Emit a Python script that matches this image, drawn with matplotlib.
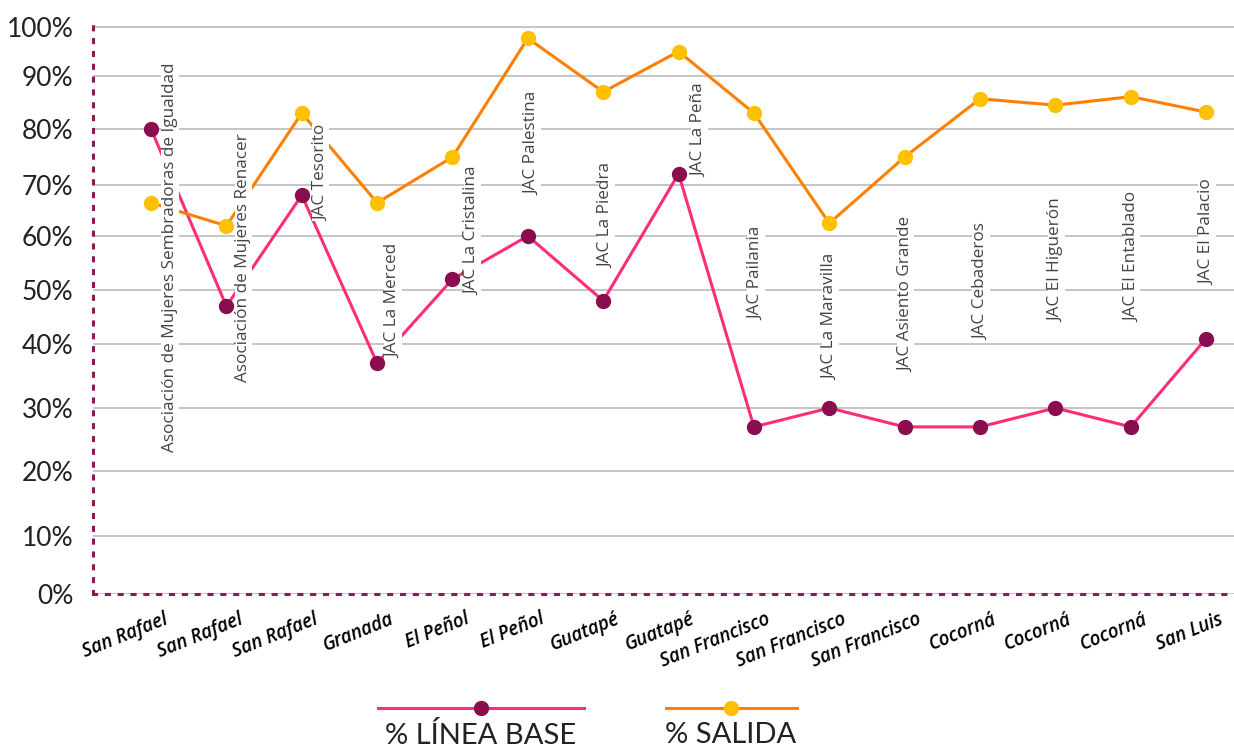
import matplotlib
import numpy as np

matplotlib.use("Agg")
import matplotlib.pyplot as plt
from matplotlib.lines import Line2D
from matplotlib.transforms import ScaledTranslation


# Chart data
MUNICIPIOS = [
    "San Rafael", "San Rafael", "San Rafael", "Granada", "El Peñol",
    "El Peñol", "Guatapé", "Guatapé", "San Francisco", "San Francisco",
    "San Francisco", "Cocorná", "Cocorná", "Cocorná", "San Luis",
]
ORGANIZACIONES = [
    "Asociación de Mujeres Sembradoras de Igualdad",
    "Asociación de Mujeres Renacer",
    "JAC Tesorito",
    "JAC La Merced",
    "JAC La Cristalina",
    "JAC Palestina",
    "JAC La Piedra",
    "JAC La Peña",
    "JAC Pailania",
    "JAC La Maravilla",
    "JAC Asiento Grande",
    "JAC Cebaderos",
    "JAC El Higuerón",
    "JAC El Entablado",
    "JAC El Palacio",
]
LINEA_BASE = [80, 47, 68, 37, 52, 60, 48, 72, 27, 30, 27, 27, 30, 27, 41]
SALIDA = [66.5, 62, 83, 66.5, 75, 97.7, 87, 95, 83, 62.5, 75, 85.7, 84.5, 86.1, 83.2]
Y_TICKS = [0, 10, 20, 30, 40, 50, 60, 70, 80, 90, 100]

# Label placement (bottom of each rotated label, in % units, and x shift in px)
LABEL_BOTTOM = [23, 34, 63, 37.8, 49, 68, 54, 71.4, 44.4, 34.4, 35.6, 40.7, 44, 44, 51]
LABEL_DX = [19, 17, 19, 16, 20, 4, 3, 21, 2, 1, 1, 1, 1, 1, 1]

# The original axis has uneven gridline spacing (pixel height above the x axis)
SCALE_PCT = [0, 10, 20, 30, 40, 50, 60, 70, 80, 90, 100, 102]
SCALE_POS = [0, 58, 123, 186, 250, 304, 358, 409, 465, 518, 567, 577]

W, H = 1234, 754
PINK = "#FF2D78"
PLUM = "#8A0E4F"
ORANGE = "#FF8000"
GOLD = "#FFC000"
SPINE = "#8A1A58"
TEXT = "#222222"


def forward(v):
    return np.interp(v, SCALE_PCT, SCALE_POS)


def inverse(p):
    return np.interp(p, SCALE_POS, SCALE_PCT)


def main() -> None:
    fig = plt.figure(figsize=(W / 100, H / 100), dpi=100)
    ax = fig.add_axes([93 / W, 1 - 594 / H, 1 - 93 / W, (594 - 17) / H])

    x = np.arange(len(MUNICIPIOS))
    ax.set_yscale("function", functions=(forward, inverse))
    ax.set_ylim(0, 102)
    ax.set_xlim(-0.77, 14.37)

    ax.plot(x, LINEA_BASE, color=PINK, lw=2.2, marker="o", ms=10,
            mfc=PLUM, mec=PLUM, zorder=3)
    ax.plot(x, SALIDA, color=ORANGE, lw=2.2, marker="o", ms=10,
            mfc=GOLD, mec=GOLD, zorder=3)

    for i, name in enumerate(ORGANIZACIONES):
        ax.annotate(name, xy=(i, LABEL_BOTTOM[i]), xytext=(LABEL_DX[i] * 0.72, 0),
                    textcoords="offset points", rotation=90, ha="center",
                    va="bottom", fontsize=12.3, color="#444444",
                    family="Open Sans", zorder=4,
                    bbox=dict(facecolor="white", edgecolor="none", pad=0.5))

    # Grid and spines
    ax.set_yticks(Y_TICKS)
    ax.set_yticklabels([f"{t}%" for t in Y_TICKS], fontsize=19,
                       color=TEXT, family="Lato")
    ax.grid(axis="y", color="#BBBBBB", lw=1.2)
    ax.set_axisbelow(True)
    ax.tick_params(axis="y", length=0, pad=14)
    for side in ["top", "right"]:
        ax.spines[side].set_visible(False)
    for side in ["left", "bottom"]:
        ax.spines[side].set_color(SPINE)
        ax.spines[side].set_linewidth(2.2)
        ax.spines[side].set_linestyle((0, (1, 3.2)))

    ax.set_xticks(x)
    ax.set_xticklabels(MUNICIPIOS, fontsize=13.5, fontweight="semibold",
                       style="italic", family="Open Sans", color="black")
    ax.tick_params(axis="x", length=0, pad=11)
    shift = ScaledTranslation(12 / 100, 0, fig.dpi_scale_trans)
    for label in ax.get_xticklabels():
        label.set_rotation(22)
        label.set_ha("right")
        label.set_va("top")
        label.set_rotation_mode("anchor")
        label.set_transform(label.get_transform() + shift)

    # Legend drawn under the chart
    ly = 1 - 708 / H
    for x0, x1, xm, line_c, mark_c, text in [
        (378, 584, 481, PINK, PLUM, "% LÍNEA BASE"),
        (666, 797, 731, ORANGE, GOLD, "% SALIDA"),
    ]:
        fig.add_artist(Line2D([x0 / W, x1 / W], [ly, ly], color=line_c, lw=2.2,
                              transform=fig.transFigure))
        fig.add_artist(Line2D([xm / W], [ly], marker="o", ms=10, mfc=mark_c,
                              mec=mark_c, transform=fig.transFigure))
        fig.text(xm / W, 1 - 722 / H, text, ha="center", va="top", fontsize=21,
                 color=TEXT, family="Lato")

    fig.savefig("out.png", dpi=100)
    plt.close(fig)


if __name__ == "__main__":
    main()
